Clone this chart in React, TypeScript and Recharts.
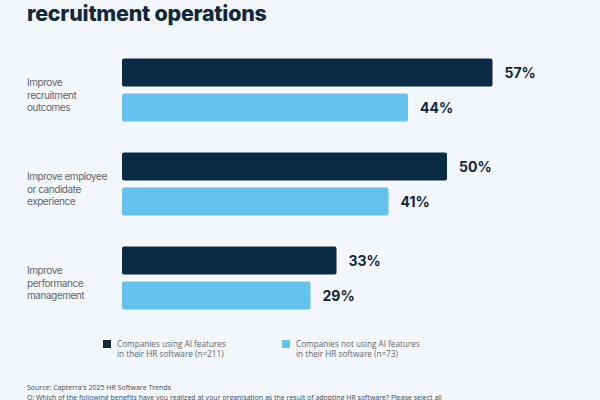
import React from "react";
import { BarChart, Bar, XAxis, YAxis, LabelList } from "recharts";

// Benefits realised from HR software, split by AI feature use (share of respondents, %)
const benefits = [
  "Improve\nrecruitment\noutcomes",
  "Improve employee\nor candidate\nexperience",
  "Improve\nperformance\nmanagement",
];
const usingAI = [57, 50, 33];
const notUsingAI = [44, 41, 29];

const seriesNames = [
  "Companies using AI features\nin their HR software (n=211)",
  "Companies not using AI features\nin their HR software (n=73)",
];

const DARK = "#0b2a43";
const LIGHT = "#63c3ec";
const BG = "#f3f7fb";
const INK = "#10293f";

const rows = benefits.map((b, i) => ({
  benefit: b,
  ai: usingAI[i],
  noAi: notUsingAI[i],
}));

const CategoryTick = (props: any) => {
  const { y, payload } = props;
  const lines: string[] = String(payload.value).split("\n");
  const lh = 12.3;
  const start = y + 5 - ((lines.length - 1) * lh) / 2;
  return (
    <g>
      {lines.map((ln, i) => (
        <text
          key={i}
          x={27}
          y={start + i * lh}
          dominantBaseline="central"
          textAnchor="start"
          fontFamily="Inter, sans-serif"
          fontSize={10}
          letterSpacing={-0.45}
          fill="#5d6872"
        >
          {ln}
        </text>
      ))}
    </g>
  );
};

const ValueLabel = (props: any) => {
  const { x, y, width, height, value } = props;
  return (
    <text
      x={x + width + 12}
      y={y + height / 2}
      dominantBaseline="central"
      fontFamily="Inter, sans-serif"
      fontWeight={700}
      fontSize={14}
      fill={INK}
    >
      {`${value}%`}
    </text>
  );
};

const LegendBlock = () => {
  const colors = [DARK, LIGHT];
  const lefts = [103, 282];
  return (
    <div style={{ position: "absolute", left: 0, top: 339, width: 600, height: 30 }}>
      {seriesNames.map((name, i) => (
        <div
          key={i}
          style={{ position: "absolute", left: lefts[i], top: 0, display: "flex" }}
        >
          <div
            style={{
              width: 8,
              height: 8,
              background: colors[i],
              marginTop: 1,
              marginRight: 6,
            }}
          />
          <div
            style={{
              fontFamily: "'Open Sans', sans-serif",
              fontSize: 8.2,
              lineHeight: "10px",
              color: "#5d6872",
              whiteSpace: "pre",
            }}
          >
            {name}
          </div>
        </div>
      ))}
    </div>
  );
};

export default function App() {
  return (
    <div
      style={{
        position: "fixed",
        left: 0,
        top: 0,
        width: 600,
        height: 400,
        background: BG,
        overflow: "hidden",
      }}
    >
      <div
        style={{
          position: "absolute",
          left: 27,
          top: -2,
          fontFamily: "Inter, sans-serif",
          fontWeight: 800,
          fontSize: 21.4,
          color: INK,
          letterSpacing: -0.2,
          lineHeight: "30px",
          whiteSpace: "nowrap",
        }}
      >
        recruitment operations
      </div>

      <BarChart
        width={600}
        height={400}
        data={rows}
        layout="vertical"
        margin={{ top: 42.5, right: 10, bottom: 75.5, left: 0 }}
        barSize={28}
        barGap={7}
      >
        <XAxis type="number" domain={[0, 72]} hide />
        <YAxis
          type="category"
          dataKey="benefit"
          width={122}
          axisLine={false}
          tickLine={false}
          tick={<CategoryTick />}
          interval={0}
        />
        <Bar dataKey="ai" name={seriesNames[0]} fill={DARK} radius={2} isAnimationActive={false}>
          <LabelList dataKey="ai" content={<ValueLabel />} />
        </Bar>
        <Bar dataKey="noAi" name={seriesNames[1]} fill={LIGHT} radius={2} isAnimationActive={false}>
          <LabelList dataKey="noAi" content={<ValueLabel />} />
        </Bar>
      </BarChart>

      <LegendBlock />

      <div
        style={{
          position: "absolute",
          left: 27,
          top: 383,
          fontFamily: "'Open Sans', sans-serif",
          fontSize: 7,
          lineHeight: "9.5px",
          color: "#3d4a57",
          whiteSpace: "nowrap",
        }}
      >
        <div>Source: Capterra's 2025 HR Software Trends</div>
        <div>
          Q: Which of the following benefits have you realized at your organisation as the result of adopting HR software? Please select all
        </div>
      </div>
    </div>
  );
}
